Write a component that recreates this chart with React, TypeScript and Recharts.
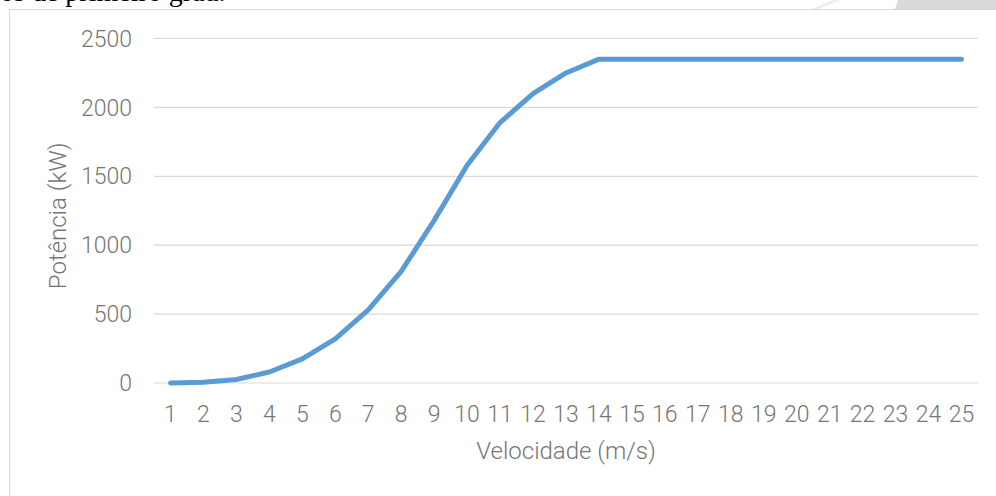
import { CartesianGrid, Line, LineChart, XAxis, YAxis } from "recharts";

// wind turbine power curve: output (kW) per wind speed (m/s)
const speeds = [
  1, 2, 3, 4, 5, 6, 7, 8, 9, 10, 11, 12, 13, 14, 15, 16, 17, 18, 19, 20, 21, 22, 23, 24, 25,
];
const power = [
  0, 5, 25, 80, 175, 320, 530, 810, 1180, 1580, 1890, 2100, 2250, 2350, 2350, 2350, 2350, 2350,
  2350, 2350, 2350, 2350, 2350, 2350, 2350,
];
const powerTicks = [0, 500, 1000, 1500, 2000, 2500];

const data = speeds.map((v, i) => ({ v, p: power[i] }));

const FONT = "Roboto, 'Noto Sans', sans-serif";
const TEXT = "#767676";
const GRID = "#d9d9d9";

const YTitle = ({ viewBox }: any) => {
  const x = 48;
  const y = viewBox.y + viewBox.height / 2 + 5;
  return (
    <text
      x={x}
      y={y}
      transform={`rotate(-90 ${x} ${y})`}
      textAnchor="middle"
      dominantBaseline="central"
      fill={TEXT}
      fontFamily={FONT}
      fontWeight={300}
      fontSize={24}
    >
      Potência (kW)
    </text>
  );
};

export default function App() {
  return (
    <div
      style={{
        position: "fixed",
        left: 0,
        top: 0,
        width: 996,
        height: 496,
        overflow: "hidden",
        background: "#fff",
      }}
    >
      {/* bits of the surrounding page */}
      <div
        style={{
          position: "absolute",
          left: 0,
          top: -22,
          fontFamily: "'Liberation Serif', 'Times New Roman', serif",
          fontSize: 28,
          lineHeight: "28px",
          color: "#000",
          whiteSpace: "nowrap",
        }}
      >
        os de primeiro grau.
      </div>
      <svg style={{ position: "absolute", left: 0, top: 0 }} width={996} height={12}>
        <polygon points="812,9 834,0 840,0 818,9" fill="#ececec" />
        <polygon points="895,9 898,0 996,0 996,9" fill="#d9d9d9" />
      </svg>

      <div
        style={{
          position: "absolute",
          left: 9,
          top: 9,
          width: 1000,
          height: 500,
          border: `1px solid ${GRID}`,
          background: "#fff",
        }}
      >
        <LineChart
          width={990}
          height={486}
          data={data}
          margin={{ top: 28.5, right: 22, bottom: 0, left: 0 }}
        >
          <CartesianGrid vertical={false} stroke={GRID} strokeWidth={1.2} />
          <XAxis
            dataKey="v"
            type="category"
            padding={{ left: 16.5, right: 16.5 }}
            axisLine={false}
            tickLine={false}
            interval={0}
            height={113}
            tickMargin={17}
            tick={{ fill: TEXT, fontSize: 23, fontFamily: FONT, fontWeight: 300 }}
            label={{
              value: "Velocidade (m/s)",
              position: "insideBottom",
              offset: 37,
              fill: TEXT,
              fontSize: 24,
              fontFamily: FONT,
              fontWeight: 300,
            }}
          />
          <YAxis
            domain={[0, 2500]}
            ticks={powerTicks}
            interval={0}
            width={144}
            axisLine={false}
            tickLine={false}
            tickMargin={16}
            tick={{ fill: TEXT, fontSize: 23, fontFamily: FONT, fontWeight: 300 }}
            label={<YTitle />}
          />
          <Line
            type="linear"
            dataKey="p"
            stroke="#5b9bd5"
            strokeWidth={5}
            strokeLinecap="round"
            strokeLinejoin="round"
            dot={false}
            activeDot={false}
            isAnimationActive={false}
          />
        </LineChart>
      </div>
    </div>
  );
}
